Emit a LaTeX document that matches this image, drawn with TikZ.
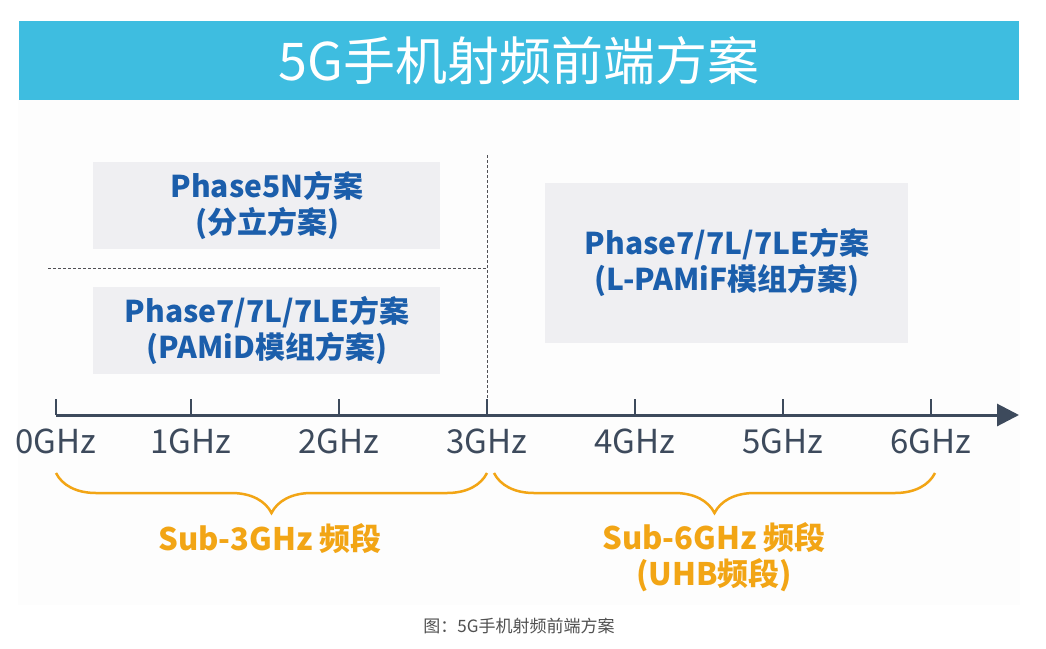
\documentclass[tikz,border=0pt]{standalone}
\usepackage{fontspec}
\setmainfont{Noto Sans CJK SC}
\usetikzlibrary{decorations.pathreplacing,arrows.meta}
\definecolor{titlebar}{RGB}{62,189,224}
\definecolor{boxfill}{RGB}{239,239,242}
\definecolor{bluetxt}{RGB}{27,94,171}
\definecolor{axiscol}{RGB}{61,74,92}
\definecolor{orangec}{RGB}{242,165,21}
\definecolor{dashcol}{RGB}{80,80,85}
\definecolor{panelbg}{RGB}{253,253,253}
\definecolor{captcol}{RGB}{80,80,80}
\begin{document}
\begin{tikzpicture}[x=1pt,y=-1pt,
  schemebox/.style={fill=boxfill,draw=none,inner sep=0pt},
  schemetxt/.style={text=bluetxt,align=center,font=\fontsize{30}{36}\selectfont\bfseries},
  ticklbl/.style={text=axiscol,font=\fontsize{33}{36}\selectfont,inner sep=0pt},
  tickmark/.style={draw=axiscol,line width=2.5pt},
  divider/.style={draw=dashcol,line width=1pt,dash pattern=on 3pt off 2pt},
  bandbrace/.style={draw=orangec,line width=2.5pt,decorate,decoration={brace,mirror,amplitude=40pt,aspect=0.5}},
  bandtxt/.style={text=orangec,align=center,font=\fontsize{31}{36}\selectfont\bfseries}]
\useasboundingbox (0,0) rectangle (1046,648);
\fill[white] (0,0) rectangle (1046,648);
\fill[panelbg] (18,100) rectangle (1020,605);
% title
\fill[titlebar] (19,21) rectangle (1019,100);
\node[text=white,font=\fontsize{52}{56}\selectfont] (title) at (519,61) {5G手机射频前端方案};
% boxes
\fill[schemebox] (93,162) rectangle (440,249);
\node[schemetxt] (b1) at (267,205) {Phase5N方案\\(分立方案)};
\fill[schemebox] (93,287) rectangle (440,374);
\node[schemetxt] (b2) at (267,330) {Phase7/7L/7LE方案\\(PAMiD模组方案)};
\fill[schemebox] (545,183) rectangle (908,343);
\node[schemetxt] (b3) at (727,262) {Phase7/7L/7LE方案\\(L-PAMiF模组方案)};
% dashed dividers
\coordinate (hl) at (48,268);
\coordinate (hr) at (487,268);
\coordinate (vt) at (487,155);
\coordinate (vb) at (487,400);
\draw[divider] (hl) -- (hr);
\draw[divider] (vt) -- (vb);
% axis
\coordinate (a0) at (56,415);
\coordinate (aend) at (1019,415);
\draw[axiscol,line width=3pt,-{Triangle[length=22pt,width=22pt]}] (a0) -- (aend);
\foreach \x/\l [count=\i from 0] in {56/0,191/1,339/2,487/3,635/4,783/5,931/6}{
  \coordinate (t\i) at (\x,415);
  \coordinate (tt\i) at (\x,399);
  \draw[tickmark] (t\i) -- (tt\i);
  \node[ticklbl] (lbl\i) at (\x,441) {\l GHz};
}
% braces
\coordinate (br1a) at (56,473);
\coordinate (br1b) at (487,473);
\coordinate (br2a) at (494,473);
\coordinate (br2b) at (935,473);
\draw[bandbrace] (br1a) -- (br1b);
\draw[bandbrace] (br2a) -- (br2b);
\node[bandtxt] (s3) at (270,539) {Sub-3GHz 频段};
\node[bandtxt] (s6) at (714,557) {Sub-6GHz 频段\\(UHB频段)};
% caption
\node[text=captcol,font=\fontsize{17}{20}\selectfont] (cap) at (519,626) {图：5G手机射频前端方案};
\end{tikzpicture}
\end{document}
